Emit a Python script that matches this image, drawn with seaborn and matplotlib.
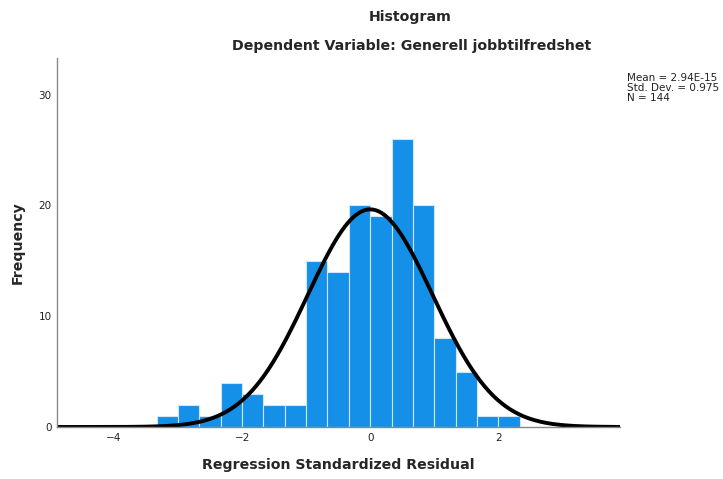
import numpy as np
import pandas as pd
import matplotlib
matplotlib.use("Agg")
import matplotlib.pyplot as plt
import seaborn as sns

# Histogram bins (left edges) and counts
bin_left = [-3.333, -3.0, -2.667, -2.333, -2.0, -1.667, -1.333, -1.0, -0.667,
            -0.333, 0.0, 0.333, 0.667, 1.0, 1.333, 1.667, 2.0]
counts = [1, 2, 1, 4, 3, 2, 2, 15, 14, 20, 19, 26, 20, 8, 5, 1, 1]
bin_width = 1 / 3

mean_val = 2.94e-15
sd_val = 0.975
n_val = 144

x_ticks = [-4, -2, 0, 2]
y_ticks = [0, 10, 20, 30]

sns.set_theme(style="white")
plt.rcParams['font.family'] = ['DejaVu Sans']

df = pd.DataFrame({"center": np.array(bin_left) + bin_width / 2, "count": counts})
edges = list(bin_left) + [bin_left[-1] + bin_width]

fig = plt.figure(figsize=(7.23, 4.79), dpi=100)
ax = fig.add_axes([57 / 723, 1 - 427 / 479, (620 - 57) / 723, (427 - 58) / 479])

sns.histplot(data=df, x="center", weights="count", bins=edges, ax=ax,
             color="#1490e8", alpha=1.0, edgecolor="#cfe6f7", linewidth=0.8)

xlim = (-4.89, 3.9)
xs = np.linspace(xlim[0], xlim[1], 400)
ys = n_val * bin_width / (sd_val * np.sqrt(2 * np.pi)) * np.exp(-0.5 * ((xs - mean_val) / sd_val) ** 2)
sns.lineplot(x=xs, y=ys, ax=ax, color="black", linewidth=2.8)

ax.set_xlim(*xlim)
ax.set_ylim(0, 33.3)
ax.set_xticks(x_ticks)
ax.set_xticklabels(["\u22124", "\u22122", "0", "2"])
ax.set_yticks(y_ticks)
ax.tick_params(axis="both", labelsize=7.5, length=0, pad=4, colors="#222222")
for s in ["top", "right"]:
    ax.spines[s].set_visible(False)
for s in ["left", "bottom"]:
    ax.spines[s].set_color("#888888")
    ax.spines[s].set_linewidth(1.0)

ax.set_xlabel("Regression Standardized Residual", fontsize=10.2, fontweight="bold", labelpad=11)
ax.set_ylabel("Frequency", fontsize=10.2, fontweight="bold")
ax.yaxis.set_label_coords((25 - 57) / 563, 0.5)

fig.text(410 / 723, 1 - 17 / 479, "Histogram", ha="center", va="center",
         fontsize=10.2, fontweight="bold")
fig.text(412 / 723, 1 - 46 / 479, "Dependent Variable: Generell jobbtilfredshet",
         ha="center", va="center", fontsize=10.2, fontweight="bold")

fig.text(627 / 723, 1 - 73 / 479,
         "Mean = 2.94E-15\nStd. Dev. = 0.975\nN = 144",
         ha="left", va="top", fontsize=7.5, linespacing=1.0, color="#222222")

fig.savefig("out.png", dpi=100)
